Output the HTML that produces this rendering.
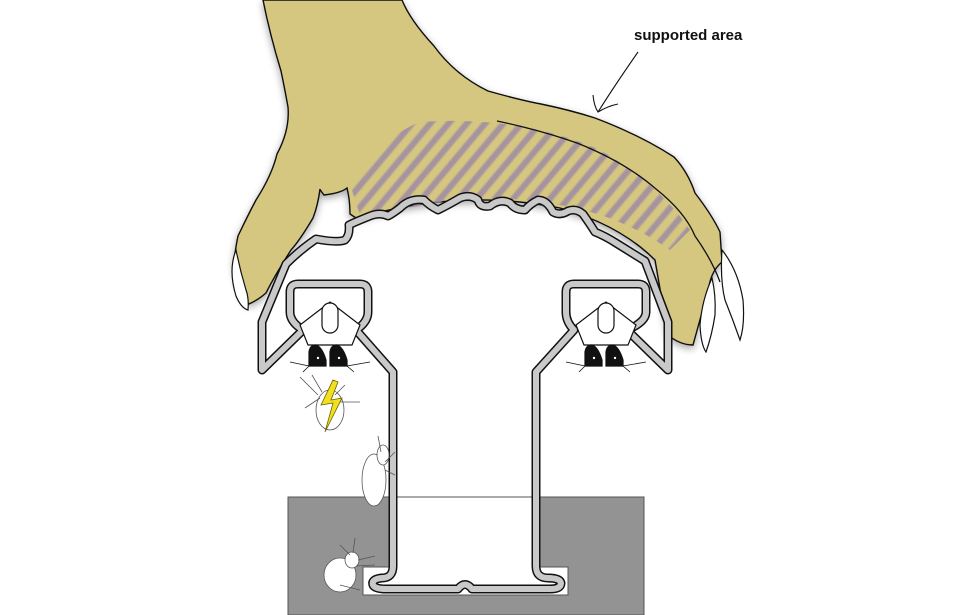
<!DOCTYPE html>
<html><head><meta charset="utf-8"><style>
html,body{margin:0;padding:0;background:#fff;}
svg{display:block}
text{font-family:"Liberation Sans",sans-serif;}
</style></head><body>
<svg width="973" height="615" viewBox="0 0 973 615" xmlns="http://www.w3.org/2000/svg">
<defs>
  <filter id="soft" x="-10%" y="-10%" width="120%" height="120%">
    <feGaussianBlur in="SourceAlpha" stdDeviation="4"/>
    <feOffset dx="0" dy="3"/>
    <feComponentTransfer><feFuncA type="linear" slope="0.35"/></feComponentTransfer>
    <feMerge><feMergeNode/><feMergeNode in="SourceGraphic"/></feMerge>
  </filter>
  <pattern id="stripes" width="14" height="14" patternUnits="userSpaceOnUse" patternTransform="rotate(40)">
    <rect width="6" height="14" fill="#a08ea3"/>
  </pattern>
  <filter id="blur1"><feGaussianBlur stdDeviation="0.8"/></filter>
  <clipPath id="stripeClip">
    <path d="M352 190 Q375 140 420 122 Q520 115 600 150 Q660 185 690 230 L670 250 Q620 215 560 205 Q480 190 400 210 Q370 218 360 215 Z"/>
  </clipPath>
</defs>

<!-- gray base -->
<rect x="288" y="497" width="356" height="118" fill="#939393" stroke="#555" stroke-width="1"/>
<path d="M389 497 L540 497 L540 567 L568 567 L568 595 L363 595 L363 567 L389 567 Z" fill="#fff" stroke="#555" stroke-width="1"/>

<!-- hand -->
<g filter="url(#soft)">
<path d="M263 0 L402 0 Q410 20 434 46 Q455 75 488 91 Q520 100 541 104 Q570 110 595 118 Q640 135 674 157 Q688 172 695 193 Q712 215 720 232 L722 262 Q712 270 709 286 Q700 320 693 345 Q680 345 668 335 L655 260 Q620 225 560 208 Q470 190 380 212 Q365 216 356 218 L350 214 Q350 200 347 188 Q341 193 324 195 Q320 190 320 189 Q318 205 313 218 Q300 240 291 250 Q275 275 266 293 Q258 300 249 304 Q236 290 234 261 Q236 245 238 236 Q248 215 256 200 Q272 175 277 154 Q290 130 288 107 Q284 85 281 71 Q270 35 263 0 Z" fill="#d5c680" stroke="#111" stroke-width="1.4"/>
</g>
<!-- stripes -->
<g clip-path="url(#stripeClip)" filter="url(#blur1)" opacity="0.9">
  <rect x="330" y="110" width="380" height="150" fill="url(#stripes)"/>
</g>
<!-- hand line -->
<path d="M497 121 Q540 130 577 143 Q625 162 656 189 Q685 212 695 236 Q712 260 720 282" fill="none" stroke="#111" stroke-width="1.3"/>
<!-- claws -->
<path d="M236 250 Q228 270 236 296 Q241 308 248 310 Q249 298 246 290 Q240 270 236 250 Z" fill="#fff" stroke="#111" stroke-width="1.2"/>
<path d="M712 278 Q702 300 700 325 Q701 345 706 352 Q712 335 715 315 Q716 295 712 278 Z" fill="#fff" stroke="#111" stroke-width="1.2"/>
<path d="M722 250 Q738 270 743 300 Q745 325 740 340 Q733 320 725 300 Q720 280 722 250 Z" fill="#fff" stroke="#111" stroke-width="1.2"/>

<!-- text + arrow -->
<text x="634" y="40" font-size="15" font-weight="bold" fill="#111">supported area</text>
<path d="M638 52 Q615 85 598 112" fill="none" stroke="#111" stroke-width="1.1"/>
<path d="M593 95 Q594 106 598 112 Q608 106 618 104" fill="none" stroke="#111" stroke-width="1.1"/>

<!-- profile -->
<defs>
<path id="pp" d="M393 372 L393 566 Q393 578 382 578 Q371 579 373 585 Q375 589 386 589 L458 589 Q465 580 472 589 L550 589 Q561 589 561 583 Q560 578 548 578 Q536 578 536 566 L536 372 L574 330 Q566 322 566 312 L566 292 Q566 284 574 284 L638 284 Q646 284 646 292 L646 312 Q646 322 627 330 L668 370 L668 322 L645 261 L616 243 Q605 236 595 232 Q590 224 583 214 Q576 208 568 211 Q560 216 553 212 Q547 200 538 200 Q530 204 525 210 Q515 210 510 203 Q500 198 490 206 Q480 208 478 200 Q470 194 460 198 Q448 205 438 210 Q430 206 424 200 Q410 198 400 208 Q392 214 388 216 Q380 212 370 216 Q355 222 349 225 Q350 235 345 240 Q338 243 316 239 Q300 250 286 264 L262 322 L262 370 L303 330 Q290 322 290 312 L290 292 Q290 284 298 284 L360 284 Q368 284 368 292 L368 312 Q368 322 356 330 L393 372 Z"/>
</defs>
<use href="#pp" stroke="#111" stroke-width="9" fill="none" stroke-linejoin="round"/>
<use href="#pp" stroke="#c9c9c9" stroke-width="6" fill="none" stroke-linejoin="round"/>

<!-- clips -->
<g stroke="#111" stroke-width="1.2">
  <path d="M300 325 L330 302 L360 325 L352 345 L308 345 Z" fill="#fff"/>
  <rect x="322" y="303" width="16" height="30" rx="8" fill="#fff"/>
  <path d="M309 366 L309 352 Q310 345 316 345 Q322 347 326 360 L326 366 Z" fill="#111"/>
  <path d="M330 366 L330 352 Q331 345 337 345 Q343 347 347 360 L347 366 Z" fill="#111"/>
  <path d="M290 362 L309 366 L303 372 M370 362 L347 366 L354 372" fill="none" stroke-width="0.8"/>
  <path d="M576 325 L606 302 L636 325 L628 345 L584 345 Z" fill="#fff"/>
  <rect x="598" y="303" width="16" height="30" rx="8" fill="#fff"/>
  <path d="M585 366 L585 352 Q586 345 592 345 Q598 347 602 360 L602 366 Z" fill="#111"/>
  <path d="M606 366 L606 352 Q607 345 613 345 Q619 347 623 360 L623 366 Z" fill="#111"/>
  <path d="M566 362 L585 366 L579 372 M646 362 L623 366 L630 372" fill="none" stroke-width="0.8"/>
</g>
<g fill="#fff" stroke="#111" stroke-width="0.6">
  <circle cx="318" cy="358" r="1.5"/><circle cx="339" cy="358" r="1.5"/>
  <circle cx="594" cy="358" r="1.5"/><circle cx="615" cy="358" r="1.5"/>
</g>

<!-- bugs -->
<g fill="#fff" stroke="#555" stroke-width="0.8">
  <ellipse cx="330" cy="410" rx="14" ry="20"/>
  <path d="M305 408 L320 398 M312 375 L322 392 M345 385 L335 395 M360 402 L340 402 M300 377 L318 395"/>
  <ellipse cx="374" cy="480" rx="12" ry="26"/>
  <ellipse cx="383" cy="455" rx="6" ry="10"/>
  <path d="M378 436 L381 452 M395 452 L385 462 M395 475 L385 470"/>
  <ellipse cx="340" cy="575" rx="16" ry="17"/>
  <ellipse cx="352" cy="560" rx="7" ry="8"/>
  <path d="M355 538 L353 553 M375 556 L358 560 M375 565 L356 566 M340 545 L350 555 M340 585 L360 590"/>
</g>
<path d="M333 380 L321 405 L333 403 L325 432 L342 398 L331 400 L338 382 Z" fill="#f0e020" stroke="#6a6200" stroke-width="0.8"/>
</svg>
</body></html>
